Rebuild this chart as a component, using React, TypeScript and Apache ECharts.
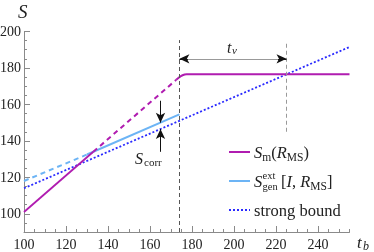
import React, { useEffect, useRef } from "react";
import * as echarts from "echarts";

// ---- data ----
const magentaSolidLow: number[][] = [[100, 101], [133, 134]];
const magentaDashed: number[][] = [[133, 134], [172.5, 173.5]];
const magentaPlateau: number[][] = [
  [172.5, 173.5], [173.5, 174.5], [174.5, 175.4], [175.5, 176.0], [176.5, 176.4], [177.5, 176.5], [255, 176.5],
];
const genDashed: number[][] = [[100, 118], [130, 132.5]];
const genSolid: number[][] = [[130, 132.5], [174, 154.5]];
const strongBound: number[][] = [[100, 114], [255, 191.5]];

const xTickLabels = [100, 120, 140, 160, 180, 200, 220, 240];
const yTickLabels = [100, 120, 140, 160, 180, 200];

const tPage = 174; // first vertical dashed line
const tSat = 225; // second vertical dashed line
const vArrow = 185; // height of t_v arrow
const tCorr = 165; // position of S_corr arrows
const corrDown = [162, 150];
const corrUp = [134, 146.5];

const MAG = "#b01cb0";
const LBLUE = "#6cb4f5";
const BLUE = "#2a2aff";
const SERIF = "Liberation Serif";
const AX = "#8a8a8a";

export default function App() {
  const ref = useRef<HTMLDivElement>(null);
  useEffect(() => {
    if (!ref.current) return;
    const chart = echarts.init(ref.current, undefined, { renderer: "svg" });
    const line = (name: string, data: number[][], color: string, type: any, width: number, z = 2) => ({
      type: "line",
      name,
      data,
      symbol: "none",
      showSymbol: false,
      silent: true,
      z,
      xAxisIndex: 0,
      yAxisIndex: 0,
      lineStyle: { color, type, width, cap: "butt" },
    });
    const txt = (x: number, y: number, text: string, size: number, italic = false, extra: any = {}) => ({
      type: "text",
      x,
      y,
      silent: true,
      style: {
        text,
        fontFamily: SERIF,
        fontSize: size,
        fontStyle: italic ? "italic" : "normal",
        fill: "#222",
        textVerticalAlign: "middle",
        textAlign: "left",
        ...extra,
      },
    });
    const rich = {
      i: { fontFamily: SERIF, fontSize: 16.5, fontStyle: "italic", fill: "#222", color: "#222" },
      n: { fontFamily: SERIF, fontSize: 16.5, color: "#222" },
      sub: { fontFamily: SERIF, fontSize: 11.5, color: "#222", padding: [9, 0, 0, 0] },
    };
    const richTxt = (x: number, y: number, text: string) => ({
      type: "text",
      x,
      y,
      silent: true,
      style: { text, rich, fontFamily: SERIF, fontSize: 16.5, fill: "#222", textVerticalAlign: "middle", textAlign: "left" },
    });

    const option: any = {
      animation: false,
      textStyle: { fontFamily: SERIF },
      grid: { left: 24, right: 24.5, top: 31.5, bottom: 20, containLabel: false, outerBoundsMode: "none" },
      xAxis: [
        {
          type: "value", min: 100, max: 255, interval: 5, position: "bottom",
          axisLine: { show: true, lineStyle: { color: AX, width: 1 } },
          axisTick: { show: true, inside: true, length: 3, lineStyle: { color: AX } },
          axisLabel: { show: false },
          splitLine: { show: false },
        },
        {
          type: "value", min: 100, max: 255, position: "bottom", offset: 0,
          axisLine: { show: false },
          axisTick: { show: true, inside: true, length: 6, customValues: xTickLabels, lineStyle: { color: AX } },
          axisLabel: { show: true, customValues: xTickLabels, fontFamily: SERIF, fontSize: 14, color: "#222", margin: 5 },
          splitLine: { show: false },
        },
      ],
      yAxis: [
        {
          type: "value", min: 90, max: 200, interval: 5, position: "left",
          axisLine: { show: true, lineStyle: { color: AX, width: 1 } },
          axisTick: { show: true, inside: true, length: 3, lineStyle: { color: AX } },
          axisLabel: { show: false },
          splitLine: { show: false },
        },
        {
          type: "value", min: 90, max: 200, position: "left", offset: 0,
          axisLine: { show: false },
          axisTick: { show: true, inside: true, length: 6, customValues: yTickLabels, lineStyle: { color: AX } },
          axisLabel: { show: true, customValues: yTickLabels, fontFamily: SERIF, fontSize: 14, color: "#222", margin: 3 },
          splitLine: { show: false },
        },
      ],
      series: [
        {
          ...line("vlines", [], "#555", "dashed", 1, 1),
          markLine: {
            silent: true,
            symbol: ["none", "none"],
            label: { show: false },
            animation: false,
            data: [
              [{ coord: [tPage, 90], lineStyle: { color: "#555", type: [4, 3], width: 1 } }, { coord: [tPage, 195.3] }],
              [{ coord: [tSat, 145], lineStyle: { color: "#999", type: [4, 3], width: 1 } }, { coord: [tSat, 193.7] }],
              [{ coord: [tPage, vArrow], lineStyle: { color: "#999", type: "solid", width: 1.2 } }, { coord: [tSat, vArrow] }],
            ],
          },
        },
        {
          ...line("arrows", [], "#111", "solid", 1, 5),
          markLine: {
            silent: true,
            symbol: ["none", "arrow"],
            symbolSize: [7, 10],
            label: { show: false },
            animation: false,
            lineStyle: { color: "#111", type: "solid", width: 1 },
            data: [
              [{ coord: [tPage + 4, vArrow] }, { coord: [tPage, vArrow] }],
              [{ coord: [tSat - 4, vArrow] }, { coord: [tSat, vArrow] }],
              [{ coord: [tCorr, corrDown[0]] }, { coord: [tCorr, corrDown[1]] }],
              [{ coord: [tCorr, corrUp[0]] }, { coord: [tCorr, corrUp[1]] }],
            ],
          },
        },
        line("strong bound", strongBound, BLUE, [2, 2], 1.8, 3),
        line("gen dashed", genDashed, LBLUE, [5, 4], 2, 3),
        line("gen", genSolid, LBLUE, "solid", 2, 3),
        line("Sm", magentaSolidLow, MAG, "solid", 1.8, 4),
        line("Sm dashed", magentaDashed, MAG, [5, 4], 2, 4),
        line("Sm plateau", magentaPlateau, MAG, "solid", 2, 4),
      ],
      graphic: [
        // axis names
        txt(18, 11, "S", 19, true),
        txt(357, 242, "t", 17, true),
        txt(363, 246, "b", 12, true),
        // t_v label
        txt(227, 47, "t", 16, true),
        txt(232, 50, "v", 11, true),
        // S_corr label
        txt(135, 158, "S", 16, true),
        txt(144, 162, "corr", 11, false),
        // legend
        { type: "line", silent: true, shape: { x1: 229, y1: 152, x2: 250, y2: 152 }, style: { stroke: MAG, lineWidth: 2 } },
        { type: "line", silent: true, shape: { x1: 229, y1: 181, x2: 250, y2: 181 }, style: { stroke: LBLUE, lineWidth: 2 } },
        { type: "line", silent: true, shape: { x1: 229, y1: 210, x2: 250, y2: 210 }, style: { stroke: BLUE, lineWidth: 1.8, lineDash: [2, 2] } },
        richTxt(254, 152, "{i|S}{sub|m}{n|(}{i|R}{sub|MS}{n|)}"),
        txt(254, 181, "S", 16.5, true),
        txt(262.5, 175, "ext", 10.5, false),
        txt(262.5, 186, "gen", 10.5, false),
        richTxt(281, 181, "{n|[}{i|I}{n|, }{i|R}{sub|MS}{n|]}"),
        txt(254, 210, "strong bound", 16.5, false),
      ],
    };
    chart.setOption(option);
    return () => chart.dispose();
  }, []);
  return <div ref={ref} style={{ position: "fixed", left: 0, top: 0, width: 374, height: 252 }} />;
}
